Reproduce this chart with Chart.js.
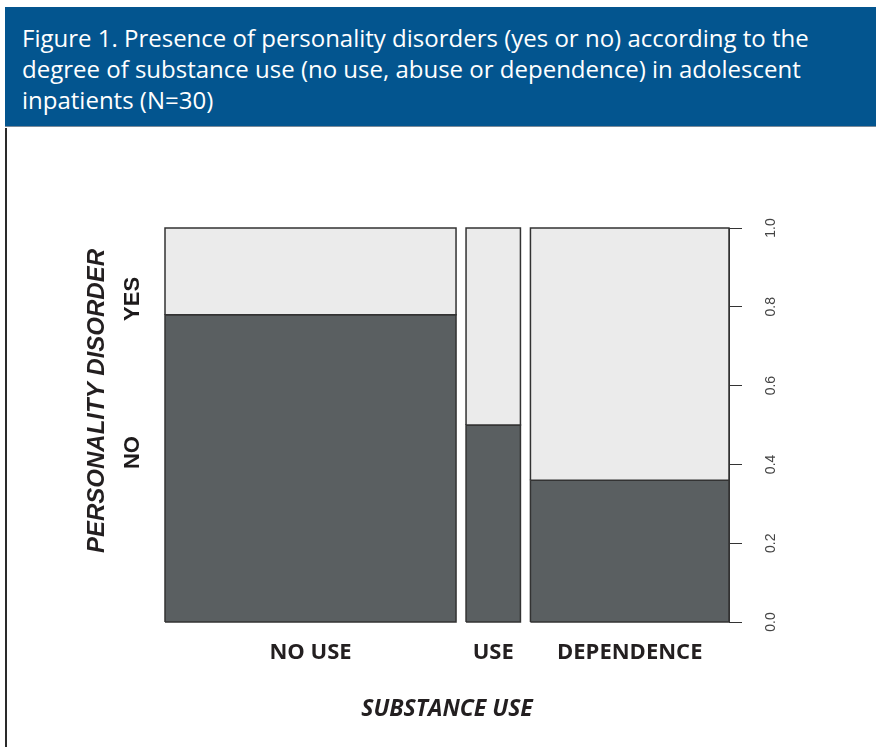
<!DOCTYPE html>
<html>
<head>
<meta charset="utf-8">
<script src="https://cdn.jsdelivr.net/npm/chart.js@4.4.0/dist/chart.umd.min.js"></script>
<style>
body{margin:0;background:#fff;width:876px;height:747px;overflow:hidden;position:relative;}
#head{position:absolute;left:5px;top:7px;width:854px;height:104px;padding:15px 0 0 17px;background:#03558f;color:#fff;
  font-family:"Open Sans",Arial,sans-serif;font-size:24px;line-height:31px;white-space:nowrap;border-bottom:1px solid #7a8a99;}
#frame{position:absolute;left:5px;top:128px;width:871px;height:619px;border-left:2px solid #2a2a2a;}
canvas{position:absolute;left:0;top:0;}
</style>
</head>
<body>
<div id="head">Figure 1. Presence of personality disorders (yes or no) according to the<br>degree of substance use (no use, abuse or dependence) in adolescent<br>inpatients (N=30)</div>
<div id="frame"></div>
<canvas id="mosaic" width="876" height="747"></canvas>
<script>
// data
const categories = ["NO USE", "USE", "DEPENDENCE"];
const columnShare = [0.535, 0.100, 0.365];   // column widths (share of patients)
const noShare = [0.78, 0.50, 0.36];          // share without personality disorder
const pdLabels = ["NO", "YES"];
const pdLabelAt = [0.43, 0.82];
const rightTicks = [0, 0.2, 0.4, 0.6, 0.8, 1.0];

const gap = 0.0184;
const dark = "#5a5f61";
const light = "#ebebeb";
const edge = "#333333";

let datasets = [];
let centers = [];
let x0 = 0;
categories.forEach((c, i) => {
  const x1 = x0 + columnShare[i];
  const p = noShare[i];
  centers.push((x0 + x1) / 2);
  // top part: personality disorder YES
  datasets.push({
    label: c + " yes",
    data: [{x:x0,y:p},{x:x0,y:1},{x:x1,y:1},{x:x1,y:p},{x:x0,y:p}],
    backgroundColor: light
  });
  // bottom part: NO
  datasets.push({
    label: c + " no",
    data: [{x:x0,y:0},{x:x0,y:p},{x:x1,y:p},{x:x1,y:0},{x:x0,y:0}],
    backgroundColor: dark
  });
  x0 = x1 + gap;
});
const xEnd = x0 - gap;

datasets.forEach(d => {
  d.showLine = true;
  d.fill = "shape";
  d.borderColor = edge;
  d.borderWidth = 1.5;
  d.pointRadius = 0;
  d.tension = 0;
  d.yAxisID = "y";
  d.clip = false;
});

// rotated side title
const sideTitle = {
  id: "sideTitle",
  afterDraw(chart){
    const ctx = chart.ctx;
    ctx.save();
    ctx.translate(97, 401);
    ctx.rotate(-Math.PI / 2);
    ctx.font = 'italic bold 24px "Liberation Sans", Arial, sans-serif';
    ctx.fillStyle = "#231f20";
    ctx.textAlign = "center";
    ctx.textBaseline = "middle";
    ctx.fillText("PERSONALITY DISORDER", 0, 0);
    ctx.restore();
  }
};

new Chart(document.getElementById("mosaic"), {
  type: "scatter",
  data: { datasets: datasets },
  plugins: [sideTitle],
  options: {
    responsive: false,
    animation: false,
    events: [],
    layout: { padding: { top: 228, left: 0, right: 0, bottom: 0 } },
    plugins: { legend: { display: false }, tooltip: { enabled: false } },
    scales: {
      y: {
        type: "linear", position: "right", min: 0, max: 1,
        afterBuildTicks: s => { s.ticks = rightTicks.map(v => ({value: v})); },
        afterFit: s => { s.width = 147; },
        grid: { drawOnChartArea: false, drawTicks: true, tickLength: 13, color: "#333", lineWidth: 1 },
        border: { display: true, color: "#333", width: 1 },
        ticks: {
          minRotation: 90, maxRotation: 90, crossAlign: "center", padding: 19,
          color: "#444",
          font: { family: '"Liberation Sans Narrow", "Liberation Sans", Arial', size: 14 },
          callback: v => v.toFixed(1)
        }
      },
      yl: {
        type: "linear", position: "left", min: 0, max: 1,
        afterBuildTicks: s => { s.ticks = pdLabelAt.map(v => ({value: v})); },
        afterFit: s => { s.width = 165; },
        grid: { display: false, drawTicks: false },
        border: { display: false },
        ticks: {
          minRotation: 90, maxRotation: 90, crossAlign: "center", padding: 10,
          color: "#1d1a1b",
          font: { family: '"Liberation Sans Narrow", "Liberation Sans", Arial', size: 22, weight: "bold" },
          callback: (v, i) => pdLabels[i]
        }
      },
      x: {
        type: "linear", position: "bottom", min: 0, max: xEnd,
        afterBuildTicks: s => { s.ticks = centers.map(v => ({value: v})); },
        afterFit: s => { s.height = 125; },
        grid: { display: false, drawTicks: false },
        border: { display: false },
        ticks: {
          autoSkip: false, maxRotation: 0, padding: 18,
          color: "#231f20",
          font: { family: '"Open Sans", sans-serif', size: 22, weight: "bold" },
          callback: (v, i) => categories[i]
        },
        title: {
          display: true, text: "SUBSTANCE USE", color: "#231f20",
          font: { family: '"Open Sans", sans-serif', size: 23, weight: "bold", style: "italic" },
          padding: { top: 0, bottom: 24 }
        }
      }
    }
  }
});
</script>
</body>
</html>
